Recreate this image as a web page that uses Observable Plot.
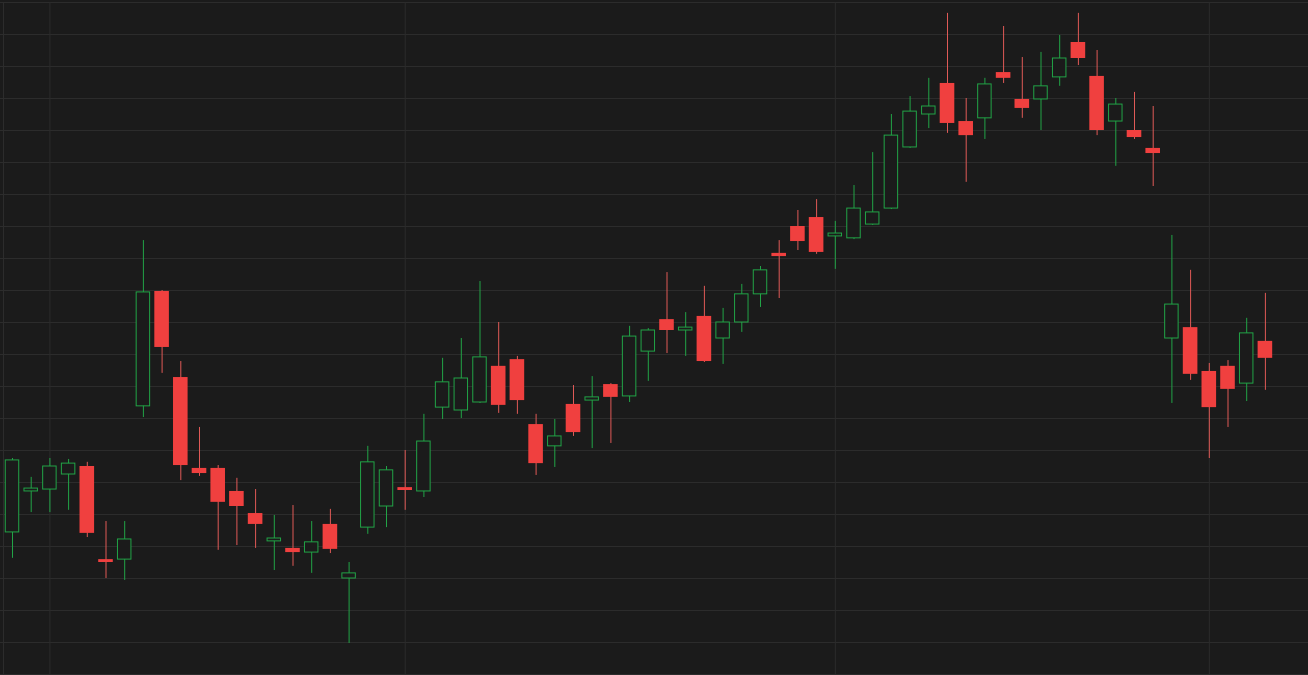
<!DOCTYPE html>
<html>
<head>
<meta charset="utf-8">
<script src="https://cdn.jsdelivr.net/npm/d3@7"></script>
<script src="https://cdn.jsdelivr.net/npm/@observablehq/plot@0.6"></script>
<style>
  html, body { margin: 0; padding: 0; background: #1b1b1b; overflow: hidden; }
  #chart svg { display: block; }
</style>
</head>
<body>
<div id="chart"></div>
<script>
// Daily OHLC prices (trading-day index 0..67)
const opens  = [84.4, 97.2, 97.8, 102.5, 105.0, 75.9, 75.9, 123.8, 159.7, 132.8,
                104.4, 104.4, 97.2, 90.3, 81.6, 79.4, 78.1, 86.9, 70.0, 85.9,
                92.5, 98.4, 97.2, 123.4, 122.5, 125.0, 136.3, 138.4, 118.1, 111.3,
                124.4, 125.6, 130.6, 126.9, 140.9, 150.9, 147.5, 151.9, 145.0, 150.0,
                158.8, 171.6, 180.0, 182.8, 176.9, 176.3, 180.6, 185.6, 204.7, 215.0,
                224.7, 212.8, 213.8, 228.1, 219.7, 219.7, 226.6, 237.5, 226.9, 212.8,
                210.0, 204.4, 145.0, 148.4, 134.7, 136.3, 130.9, 144.1];
const highs  = [107.5, 101.6, 107.5, 107.2, 106.3, 87.8, 87.8, 175.6, 160.0, 137.8,
                117.2, 105.3, 101.3, 97.8, 89.7, 92.8, 87.8, 91.6, 75.0, 111.3,
                105.0, 110.0, 121.3, 138.8, 145.0, 162.8, 150.0, 139.4, 121.3, 119.7,
                130.3, 133.1, 130.9, 148.8, 148.1, 165.6, 153.1, 161.3, 154.4, 161.9,
                167.5, 175.6, 185.0, 188.4, 181.6, 192.8, 203.1, 215.0, 220.6, 226.3,
                246.6, 220.0, 226.3, 242.5, 232.8, 234.4, 239.7, 246.6, 235.0, 220.0,
                221.9, 217.5, 177.2, 166.3, 137.2, 138.1, 151.3, 159.1];
const lows   = [76.3, 90.6, 90.6, 91.3, 82.8, 70.0, 69.4, 120.3, 134.1, 100.6,
                101.9, 78.8, 80.3, 79.4, 72.5, 73.8, 71.6, 77.8, 49.7, 83.8,
                85.9, 91.3, 95.3, 119.7, 120.0, 124.7, 121.6, 121.3, 102.2, 104.7,
                114.4, 110.6, 112.2, 125.0, 131.6, 140.3, 139.4, 137.5, 136.9, 146.9,
                154.7, 157.5, 172.5, 171.3, 166.6, 175.9, 180.3, 185.3, 204.4, 210.6,
                209.1, 193.8, 207.2, 224.7, 213.8, 210.0, 223.8, 230.3, 208.4, 198.8,
                207.2, 192.5, 124.7, 131.9, 107.5, 117.2, 125.3, 128.8];
const closes = [106.9, 98.1, 105.0, 105.9, 84.1, 75.0, 82.2, 159.4, 142.2, 105.3,
                102.8, 93.8, 92.5, 86.9, 82.5, 78.1, 81.3, 79.1, 71.6, 106.3,
                103.8, 97.5, 112.8, 131.3, 132.5, 139.1, 124.1, 125.6, 105.9, 114.4,
                115.6, 126.6, 126.6, 145.6, 147.5, 147.5, 148.4, 137.8, 150.0, 158.8,
                166.3, 170.6, 175.3, 171.9, 177.8, 185.6, 184.4, 208.4, 215.9, 217.5,
                212.2, 208.4, 224.4, 226.3, 216.9, 223.8, 232.5, 232.5, 210.0, 218.1,
                207.8, 202.8, 155.6, 133.8, 123.4, 129.1, 146.6, 138.8];
// Month boundaries (trading-day index where a new month starts)
const monthStarts = [2, 21, 44, 64];
// Price gridline levels
const priceTicks = d3.range(40, 251, 10);

const bg = "#1b1b1b";
const grid = "#2c2c2c";
const green = "#22a447";
const red = "#f0403f";
const redWick = "#e05a57";

const data = opens.map((o, i) => ({i, open: o, high: highs[i], low: lows[i], close: closes[i]}));
const up = data.filter(d => d.close >= d.open);
const down = data.filter(d => d.close < d.open);

const step = 18.70;
const W = 1308, H = 675;
const xMin = -12 / step, xMax = (W - 12) / step;
const half = 0.39;

const chart = Plot.plot({
  width: W,
  height: H,
  marginTop: 2,
  marginBottom: 1,
  marginLeft: 0,
  marginRight: 0,
  style: {background: bg},
  x: {domain: [xMin, xMax], axis: null},
  y: {domain: [40, 250], axis: null},
  marks: [
    Plot.ruleY(priceTicks, {stroke: grid, strokeWidth: 1}),
    Plot.ruleX(monthStarts, {stroke: grid, strokeWidth: 1}),
    Plot.ruleX([xMin + 3 / step], {stroke: grid, strokeWidth: 1}),
    Plot.ruleX(down, {x: "i", y1: "low", y2: "high", stroke: redWick, strokeWidth: 1}),
    Plot.ruleX(up, {x: "i", y1: "low", y2: "high", stroke: green, strokeWidth: 1}),
    Plot.rect(down, {x1: d => d.i - half, x2: d => d.i + half, y1: "open", y2: "close", fill: red}),
    Plot.rect(up, {x1: d => d.i - half + 0.03, x2: d => d.i + half - 0.03, y1: "open", y2: "close", fill: bg, stroke: green, strokeWidth: 1})
  ]
});
document.getElementById("chart").append(chart);
</script>
</body>
</html>
